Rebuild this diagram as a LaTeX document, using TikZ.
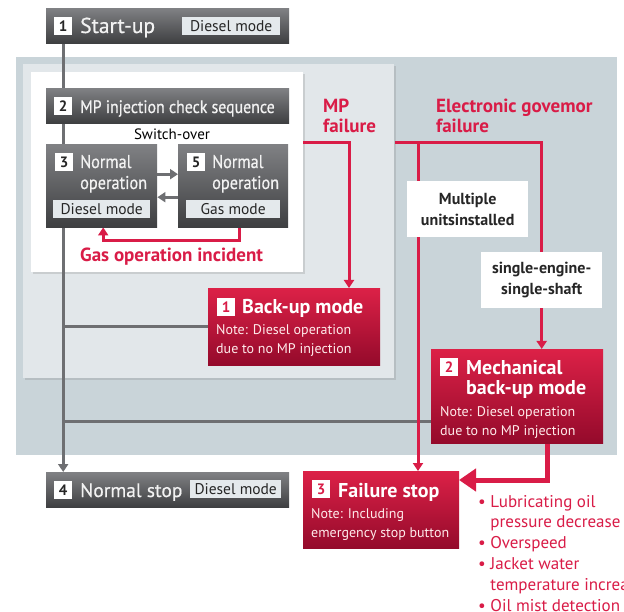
\documentclass[tikz,border=0pt]{standalone}
\usepackage{fontspec}
\setmainfont{PT Sans}
\newfontfamily\headfont{PT Sans}[FakeBold=0.6]
\newfontfamily\headcond{PT Sans}[FakeBold=0.6, FakeStretch=0.88]
\usetikzlibrary{arrows.meta, shadows}

% colours
\definecolor{boxtop}{HTML}{808184}
\definecolor{boxbot}{HTML}{3E3F41}
\definecolor{redtop}{HTML}{DC2147}
\definecolor{redbot}{HTML}{940A2B}
\definecolor{failred}{HTML}{D91C47}
\definecolor{linegray}{HTML}{6E6F72}
\definecolor{panelgray}{HTML}{C9D4D9}
\definecolor{panellight}{HTML}{E2E7EA}
\definecolor{tagfill}{HTML}{E4E9EC}

% panels at the back, connectors under the boxes
\pgfdeclarelayer{panels}
\pgfdeclarelayer{links}
\pgfsetlayers{panels,links,main}

\tikzset{
  graybox/.style={anchor=north west, inner sep=0pt, top color=boxtop, bottom color=boxbot},
  redbox/.style={anchor=north west, inner sep=0pt, top color=redtop, bottom color=redbot},
  numsq/.style={anchor=north west, fill=white, minimum size=18pt, inner sep=0pt, text=black!85, font=\bfseries\fontsize{15}{15}\selectfont},
  tagbox/.style={anchor=north west, fill=tagfill, minimum height=18pt, inner sep=0pt, text=black!85, font=\fontsize{15.5}{15.5}\selectfont},
  headtext/.style={anchor=base west, inner sep=0pt, text=white!95!black, align=left, font=\headfont\fontsize{19}{21}\selectfont},
  redhead/.style={anchor=base west, inner sep=0pt, text=white, align=left, font=\bfseries\fontsize{20}{20}\selectfont},
  notetext/.style={anchor=base west, inner sep=0pt, text=white!92!red, align=left, font=\fontsize{14}{18.5}\selectfont},
  redlabel/.style={anchor=base west, inner sep=0pt, text=failred, align=left, font=\bfseries\fontsize{19}{20}\selectfont},
  whitebox/.style={anchor=north west, fill=white, inner sep=0pt, align=center, text=black!85, font=\bfseries\fontsize{16}{21}\selectfont},
  flow/.style={draw=linegray, line width=3pt},
  failline/.style={draw=failred, line width=3pt},
  grayarrow/.style={-{Triangle[length=8pt, width=10pt]}},
  redarrow/.style={-{Triangle[length=8pt, width=10pt]}},
  bigarrow/.style={draw=failred, line width=5pt, -{Triangle[length=17pt, width=22pt]}},
}

\begin{document}
\begin{tikzpicture}[x=1pt, y=-1pt]

  % page and background panels
  \useasboundingbox (0,0) rectangle (624,612);
  \begin{pgfonlayer}{panels}
    \fill[white] (0,0) rectangle (624,612);
    \fill[panelgray] (16,57) rectangle (617,455);
    \fill[panellight, drop shadow={shadow xshift=2pt, shadow yshift=-2pt, opacity=0.25}] (23,64) rectangle (394,378);
    \fill[white, drop shadow={shadow xshift=2pt, shadow yshift=-2pt, opacity=0.25}] (31,72) rectangle (303,272);
  \end{pgfonlayer}

  % 1 Start-up
  \node[graybox, minimum width=243pt, minimum height=35pt] (su) at (46,8) {};
  \node[numsq] (suNum) at (54,17) {1};
  \node[headtext, font=\headfont\fontsize{21.5}{21.5}\selectfont] (suText) at (80,33) {Start-up};
  \node[tagbox, minimum width=98pt] (suTag) at (182,17) {Diesel mode};

  % 2 MP injection check sequence
  \node[graybox, minimum width=243pt, minimum height=35pt] (mp) at (46,88) {};
  \node[numsq] (mpNum) at (54,97) {2};
  \node[headtext, font=\headcond\fontsize{18}{18}\selectfont] (mpText) at (80,113) {MP injection check sequence};

  \node[anchor=base, inner sep=0pt, font=\fontsize{15}{15}\selectfont] (sw) at (172,140) {Switch-over};

  % 3 Normal operation, diesel
  \node[graybox, minimum width=111pt, minimum height=83pt] (nd) at (46,144) {};
  \node[numsq] (ndNum) at (55,153) {3};
  \node[headtext, font=\headcond\fontsize{18.5}{21}\selectfont] (ndText) at (80,189) {Normal\\operation};
  \node[tagbox, minimum width=97pt] (ndTag) at (53,200) {Diesel mode};

  % 5 Normal operation, gas
  \node[graybox, minimum width=110pt, minimum height=83pt] (ng) at (178,144) {};
  \node[numsq] (ngNum) at (187,153) {5};
  \node[headtext, font=\headcond\fontsize{18.5}{21}\selectfont] (ngText) at (212,189) {Normal\\operation};
  \node[tagbox, minimum width=94pt] (ngTag) at (186,200) {Gas mode};

  % 4 Normal stop
  \node[graybox, minimum width=243pt, minimum height=35pt] (ns) at (46,472) {};
  \node[numsq] (nsNum) at (54,481) {4};
  \node[headtext, font=\headfont\fontsize{19.5}{19.5}\selectfont] (nsText) at (80,497) {Normal stop};
  \node[tagbox, minimum width=91pt] (nsTag) at (190,480) {Diesel mode};

  % condition boxes
  \node[whitebox, minimum width=121pt, minimum height=56pt] (mu) at (407,181) {Multiple\\unitsinstalled};
  \node[whitebox, minimum width=121pt, minimum height=56pt] (se) at (481,252) {single-engine-\\single-shaft};

  % 1 Back-up mode
  \node[redbox, minimum width=172pt, minimum height=77pt] (bu) at (208,288) {};
  \node[numsq, text=failred] (buNum) at (217,298) {1};
  \node[redhead] (buText) at (242,314) {Back-up mode};
  \node[notetext] (buNote) at (216,353) {Note: Diesel operation\\due to no MP injection};

  % 2 Mechanical back-up mode
  \node[redbox, minimum width=172pt, minimum height=94pt] (mb) at (431,349) {};
  \node[numsq, text=failred] (mbNum) at (440,358) {2};
  \node[redhead] (mbText) at (466,394) {Mechanical\\back-up mode};
  \node[notetext] (mbNote) at (440,435) {Note: Diesel operation\\due to no MP injection};

  % 3 Failure stop
  \node[redbox, minimum width=156pt, minimum height=77pt] (fs) at (303,471) {};
  \node[numsq, text=failred] (fsNum) at (312,480) {3};
  \node[redhead] (fsText) at (338,497) {Failure stop};
  \node[notetext] (fsNote) at (311,537) {Note: Including\\emergency stop button};

  % labels
  \node[redlabel] (gasInc) at (80,262) {Gas operation incident};
  \node[redlabel] (mpFail) at (323,133) {MP\\failure};
  \node[redlabel] (egFail) at (436,133) {Electronic govemor\\failure};

  % failure causes
  \node[anchor=base west, inner sep=0pt, text=failred, align=left, font=\fontsize{17}{20.8}\selectfont] (causes) at (478,611)
    {\textbullet\ Lubricating oil\\\phantom{\textbullet\ }pressure decrease\\\textbullet\ Overspeed\\\textbullet\ Jacket water\\\phantom{\textbullet\ }temperature increase\\\textbullet\ Oil mist detection};

  \begin{pgfonlayer}{links}
    % main line and side branches
    \coordinate (mbin) at (431,421);
    \draw[flow, grayarrow] (suNum.center |- su.south) -- (suNum.center |- ns.north);
    \draw[flow] (suNum.center |- bu.west) -- (bu.west);
    \draw[flow] (suNum.center |- mbin) -- (mbin);

    % switch-over arrows
    \draw[flow, grayarrow] ([yshift=11.5pt]nd.east) -- ([yshift=11.5pt]ng.west);
    \draw[flow, grayarrow] ([yshift=-11.5pt]ng.west) -- ([yshift=-11.5pt]nd.east);

    % gas operation incident
    \draw[failline, redarrow] ([xshift=6pt]ng.south) -- ++(0,13) -| ([xshift=1.5pt]nd.south);

    % failure paths
    \coordinate (mpsrc) at (303,143);
    \coordinate (egsrc) at (395,143);
    \coordinate (egbranch) at (418,143);
    \coordinate (buin) at (349,288);
    \coordinate (fsin) at (459,480);
    \draw[failline, redarrow] (mpsrc) -| (buin);
    \draw[failline] (egsrc) -| (se.north);
    \draw[failline, redarrow] (se.south) -- (se.south |- mb.north);
    \draw[failline, redarrow] (egbranch) -- (egbranch |- fs.north);
    \draw[bigarrow] ([xshift=30pt]mb.south) |- (fsin);
  \end{pgfonlayer}

\end{tikzpicture}
\end{document}
